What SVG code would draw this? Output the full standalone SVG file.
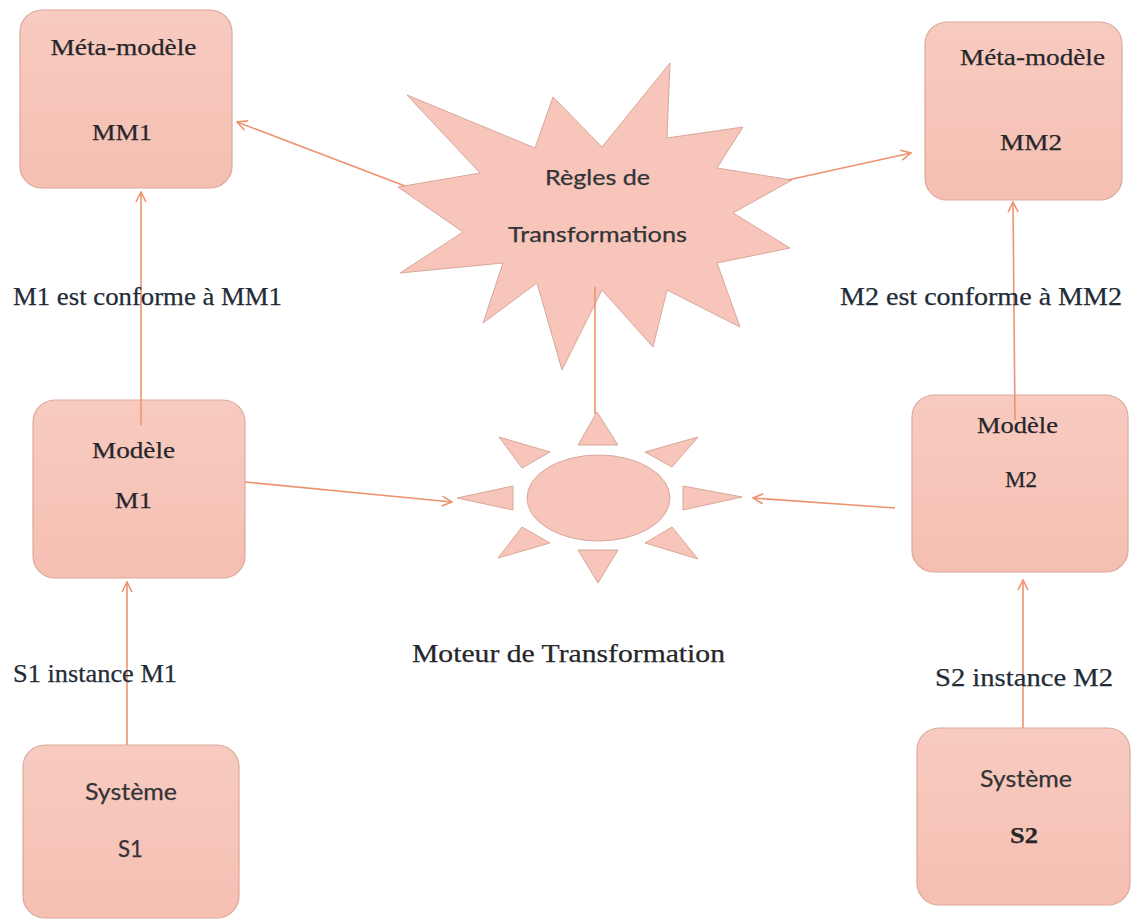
<svg xmlns="http://www.w3.org/2000/svg" width="1132" height="920" viewBox="0 0 1132 920">
  <defs>
    <linearGradient id="boxFill" x1="0" y1="0" x2="0" y2="1">
      <stop offset="0" stop-color="#F8CBC0"/>
      <stop offset="1" stop-color="#F5BFB2"/>
    </linearGradient>
    <marker id="arrow" viewBox="0 0 12 12" refX="11" refY="6" markerWidth="12" markerHeight="12" markerUnits="userSpaceOnUse" orient="auto">
      <path d="M1,1 L11,6 L1,11" fill="none" stroke="#EE936F" stroke-width="1.6"/>
    </marker>
  </defs>
  <style>
    .box { fill: url(#boxFill); stroke: #D9A99C; stroke-width: 1.2; }
    .shape { fill: #F7C5B9; stroke: #D8A79C; stroke-width: 1; }
    .serif { font-family: "Liberation Serif", "Times New Roman", serif; fill: #26262B; stroke: #26262B; stroke-width: 0.25; }
    .sans { font-family: Lato, "Liberation Sans", sans-serif; fill: #333338; stroke: #333338; stroke-width: 0.25; }
    .node { font-size: 24px; text-anchor: middle; }
    .label { font-size: 26px; fill: #1F2C38; stroke: #1F2C38; }
    .link { fill: none; stroke: #EE936F; stroke-width: 1.6; }
  </style>
  <rect width="1132" height="920" fill="#FFFFFF"/>

  <!-- left column -->
  <g id="mm1">
    <rect class="box" x="20" y="10" width="212" height="178" rx="22"/>
    <text class="serif node" x="123.5" y="55" textLength="146" lengthAdjust="spacingAndGlyphs">Méta-modèle</text>
    <text class="serif node" x="122" y="140" textLength="60" lengthAdjust="spacingAndGlyphs">MM1</text>
  </g>
  <g id="m1">
    <rect class="box" x="33" y="400" width="212" height="178" rx="22"/>
    <text class="serif node" x="133.5" y="458" textLength="83" lengthAdjust="spacingAndGlyphs">Modèle</text>
    <text class="serif node" x="133.5" y="508" textLength="37" lengthAdjust="spacingAndGlyphs">M1</text>
  </g>
  <g id="s1">
    <rect class="box" x="23" y="745" width="216" height="173" rx="22"/>
    <text class="sans node" x="131" y="800" font-size="22" textLength="92" lengthAdjust="spacingAndGlyphs">Système</text>
    <text class="sans node" x="130.5" y="857" font-size="22" textLength="25" lengthAdjust="spacingAndGlyphs">S1</text>
  </g>

  <!-- right column -->
  <g id="mm2">
    <rect class="box" x="925" y="22" width="197" height="178" rx="22"/>
    <text class="serif node" x="1032.5" y="65" textLength="145" lengthAdjust="spacingAndGlyphs">Méta-modèle</text>
    <text class="serif node" x="1031" y="150" textLength="62" lengthAdjust="spacingAndGlyphs">MM2</text>
  </g>
  <g id="m2">
    <rect class="box" x="912" y="395" width="216" height="177" rx="22"/>
    <text class="serif node" x="1017.5" y="433" textLength="81" lengthAdjust="spacingAndGlyphs">Modèle</text>
    <text class="serif node" x="1021" y="487" textLength="32" lengthAdjust="spacingAndGlyphs">M2</text>
  </g>
  <g id="s2">
    <rect class="box" x="917" y="728" width="213" height="177" rx="22"/>
    <text class="sans node" x="1026" y="787" font-size="22" textLength="92" lengthAdjust="spacingAndGlyphs">Système</text>
    <text class="serif node" x="1024" y="843" font-weight="bold" textLength="28" lengthAdjust="spacingAndGlyphs">S2</text>
  </g>

  <!-- transformation rules (explosion shape) -->
  <g id="rules">
    <polygon class="shape" points="407,95 535,148 553,97 602,147 670,63 667,138 743,127 717,168 792,180 733,213 790,248 717,263 740,327 667,290 653,347 602,290 562,370 537,283 483,323 503,263 400,273 463,232 398,187 480,173"/>
    <text class="sans" x="597.5" y="185" font-size="22" text-anchor="middle" textLength="105" lengthAdjust="spacingAndGlyphs">Règles de</text>
    <text class="sans" x="597.5" y="242" font-size="22" text-anchor="middle" textLength="179" lengthAdjust="spacingAndGlyphs">Transformations</text>
  </g>

  <!-- transformation engine (sun) -->
  <g id="engine">
    <ellipse class="shape" cx="598.5" cy="498" rx="71.5" ry="43"/>
    <polygon class="shape" points="578,445 618,445 597,412"/>
    <polygon class="shape" points="578,550 618,550 598,583"/>
    <polygon class="shape" points="513,486 513,510 457,498"/>
    <polygon class="shape" points="683,486 683,510 742,497"/>
    <polygon class="shape" points="499,437 550,452 522,468"/>
    <polygon class="shape" points="698,437 645,452 672,467"/>
    <polygon class="shape" points="498,558 550,543 522,527"/>
    <polygon class="shape" points="698,559 645,543 672,527"/>
    <text class="serif" x="568.5" y="662" font-size="26" text-anchor="middle" fill="#1F2C38" textLength="313" lengthAdjust="spacingAndGlyphs">Moteur de Transformation</text>
  </g>

  <!-- connectors -->
  <g id="connectors">
    <line class="link" x1="141" y1="425" x2="141" y2="192" marker-end="url(#arrow)"/>
    <line class="link" x1="127" y1="745" x2="127" y2="582" marker-end="url(#arrow)"/>
    <line class="link" x1="1015" y1="420" x2="1013" y2="202" marker-end="url(#arrow)"/>
    <line class="link" x1="1023" y1="728" x2="1023" y2="580" marker-end="url(#arrow)"/>
    <line class="link" x1="405" y1="186" x2="237" y2="122" marker-end="url(#arrow)"/>
    <line class="link" x1="788" y1="180" x2="911" y2="153" marker-end="url(#arrow)"/>
    <line class="link" x1="245" y1="482" x2="452" y2="502" marker-end="url(#arrow)"/>
    <line class="link" x1="895" y1="508" x2="753" y2="498" marker-end="url(#arrow)"/>
    <line class="link" x1="595" y1="287" x2="595" y2="414"/>
  </g>

  <!-- relation labels -->
  <g id="labels">
    <text class="serif label" x="13" y="305" textLength="269" lengthAdjust="spacingAndGlyphs">M1 est conforme à MM1</text>
    <text class="serif label" x="840" y="305" textLength="282" lengthAdjust="spacingAndGlyphs">M2 est conforme à MM2</text>
    <text class="serif label" x="13" y="682" textLength="164" lengthAdjust="spacingAndGlyphs">S1 instance M1</text>
    <text class="serif label" x="935" y="686" textLength="178" lengthAdjust="spacingAndGlyphs">S2 instance M2</text>
  </g>
</svg>
